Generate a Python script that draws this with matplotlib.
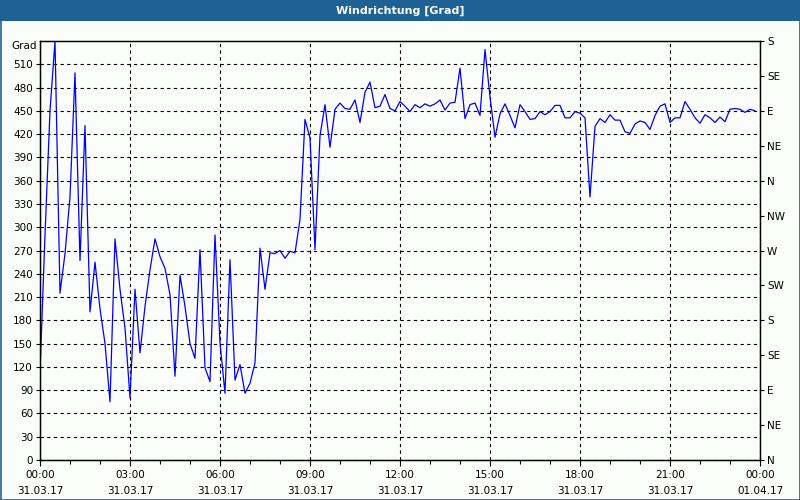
import numpy as np
import matplotlib
matplotlib.use("Agg")
import matplotlib.pyplot as plt
from matplotlib.patches import Rectangle

# Windrichtung in Grad, ein Wert alle 10 Minuten ab 31.03.17 00:00
richtung = [
    113, 290, 450, 540, 215, 266, 339, 499, 257, 431,
    191, 255, 195, 150, 75, 285, 220, 170, 80, 220,
    138, 198, 245, 285, 262, 247, 213, 108, 238, 198,
    150, 131, 271, 119, 101, 290, 151, 86, 258, 103,
    123, 86, 99, 125, 273, 220, 267, 266, 270, 260,
    269, 267, 310, 439, 415, 271, 418, 458, 403, 452,
    460, 453, 452, 464, 435, 474, 487, 454, 456, 471,
    453, 450, 462, 456, 449, 458, 454, 459, 456, 459,
    464, 451, 460, 461, 505, 440, 458, 460, 444, 529,
    468, 416, 446, 459, 444, 428, 458, 449, 439, 440,
    449, 445, 449, 457, 457, 441, 441, 449, 447, 441,
    339, 430, 440, 435, 445, 438, 438, 423, 421, 433,
    437, 435, 426, 444, 456, 459, 435, 441, 441, 462,
    452, 441, 434, 445, 441, 435, 442, 436, 452, 453,
    452, 448, 452, 450,
]
stunden = np.arange(len(richtung)) / 6.0

x_ticks = [0, 3, 6, 9, 12, 15, 18, 21, 24]
x_labels = ["00:00\n31.03.17", "03:00\n31.03.17", "06:00\n31.03.17",
            "09:00\n31.03.17", "12:00\n31.03.17", "15:00\n31.03.17",
            "18:00\n31.03.17", "21:00\n31.03.17", "00:00\n01.04.17"]
y_ticks = list(range(0, 540, 30))
kompass_werte = list(range(0, 541, 45))
kompass = ["N", "NE", "E", "SE", "S", "SW", "W", "NW", "N", "NE", "E", "SE", "S"]

blau = "#1e6295"
hintergrund = "#fbfdfb"

fig = plt.figure(figsize=(8, 5), dpi=100, facecolor=hintergrund)
W, H = 800, 500

# Titelleiste
fig.patches.append(Rectangle((0, 1 - 21 / H), 1, 21 / H, transform=fig.transFigure,
                             facecolor=blau, edgecolor="none", zorder=0))
fig.text(0.5, 1 - 10.5 / H, "Windrichtung [Grad]", color="white", fontsize=8,
         fontweight="bold", ha="center", va="center")
# Rahmen
fig.patches.append(Rectangle((0.5 / W, 0.5 / H), 1 - 1 / W, 1 - 1 / H, transform=fig.transFigure,
                             facecolor="none", edgecolor=blau, linewidth=1.2, zorder=5))

ax = fig.add_axes([40 / W, 1 - 460 / H, 720 / W, 419 / H])
ax.set_facecolor(hintergrund)
ax.plot(stunden, richtung, color="#0000ff", linewidth=0.9, zorder=3)

ax.set_xlim(0, 24)
ax.set_ylim(0, 540)

ax.set_xticks(x_ticks)
ax.set_xticklabels(x_labels, fontsize=7.5, linespacing=1.8)
ax.set_xticks(range(0, 25), minor=True)
ax.set_yticks(y_ticks)
ax.set_yticklabels([str(v) for v in y_ticks], fontsize=7.5)
ax.tick_params(axis="x", which="major", length=4, width=0.8, pad=3)
ax.tick_params(axis="x", which="minor", length=3, width=0.8)
ax.tick_params(axis="y", length=3, width=0.8, pad=2)

ax.grid(True, which="major", color="black", linestyle=(0, (3, 3)), linewidth=0.8)
for s in ax.spines.values():
    s.set_color("black")
    s.set_linewidth(1.0)

ax.text(-0.004, 540, "Grad", transform=ax.get_yaxis_transform(), fontsize=7.5,
        ha="right", va="top")

ax2 = ax.twinx()
ax2.set_ylim(0, 540)
ax2.set_yticks(kompass_werte)
ax2.set_yticklabels(kompass, fontsize=7.5)
ax2.tick_params(axis="y", length=3, width=0.8, pad=2)

fig.savefig("out.png", dpi=100, facecolor=hintergrund)
